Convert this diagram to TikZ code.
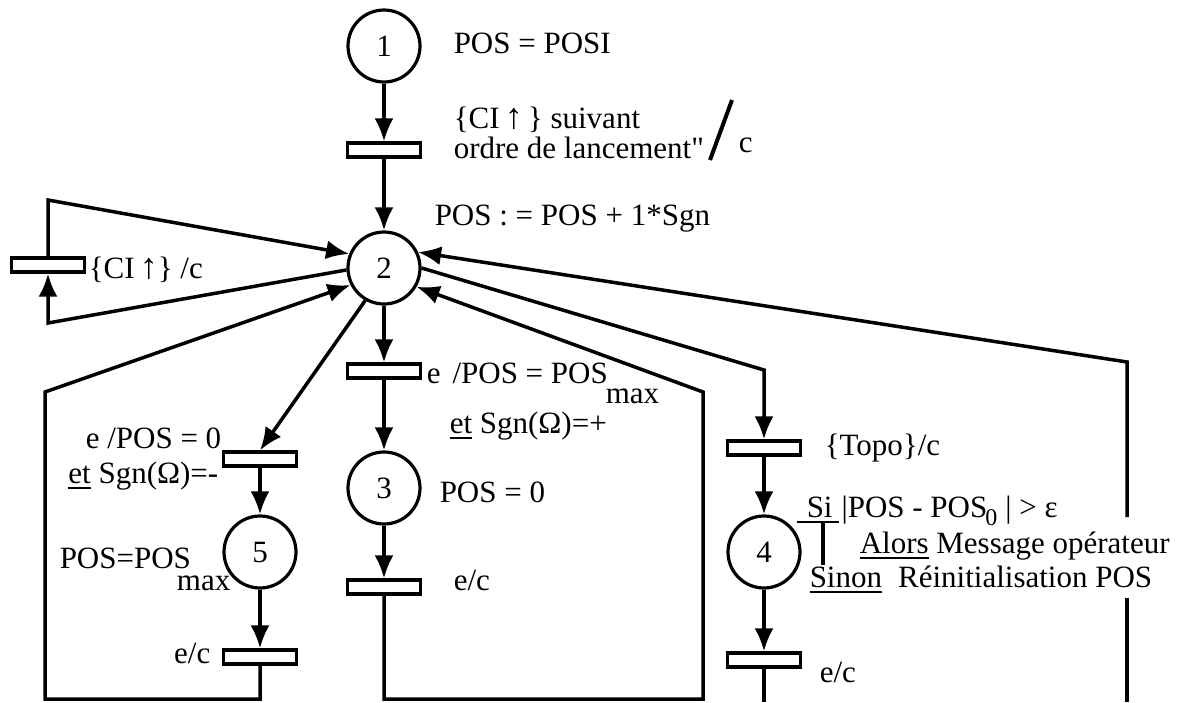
\documentclass[tikz,border=0pt]{standalone}
\usepackage{fontspec}
\setmainfont{Liberation Serif}[Ligatures=TeXOff]
\usetikzlibrary{arrows.meta}

\newcommand{\undl}[1]{\sbox0{#1}\rlap{\rule[-6pt]{\wd0}{2.5pt}}\usebox0}
\newcommand{\fleche}{{\fontsize{36}{36}\selectfont ↑}}

\begin{document}
\begin{tikzpicture}[x=1pt, y=-1pt, >={Latex[length=23pt, width=19pt]}, line width=3.5pt,
    font=\fontsize{31}{33}\selectfont,
    place/.style={draw, circle, minimum size=72pt, inner sep=0pt, line width=3.2pt},
    trans/.style={draw, minimum width=73pt, minimum height=14pt, inner sep=0pt, line width=3.2pt},
    lbl/.style={anchor=base west, inner sep=0pt},
    lblr/.style={anchor=base east, inner sep=0pt}]
  \useasboundingbox (0,0) rectangle (1184,702);

  % Позиции
  \node[place] (p1) at (384,46) {1};
  \node[place] (p2) at (384,268) {2};
  \node[place] (p3) at (384,488) {3};
  \node[place] (p4) at (764,552) {4};
  \node[place] (p5) at (260,552) {5};

  % Переходы
  \node[trans] (t1) at (384,150) {};
  \node[trans] (tl) at (48,265) {};
  \node[trans] (t2) at (384,371) {};
  \node[trans] (t3) at (384,587) {};
  \node[trans] (t5a) at (260,459) {};
  \node[trans] (t5b) at (260,657) {};
  \node[trans] (t4a) at (764,448) {};
  \node[trans] (t4b) at (764,660) {};

  % Точки излома
  \coordinate (ll1) at (48,200);
  \coordinate (ll2) at (48,323);
  \coordinate (bl1) at (260,699);
  \coordinate (bl2) at (45,699);
  \coordinate (bl3) at (45,392);
  \coordinate (ml1) at (384,699);
  \coordinate (ml2) at (703,699);
  \coordinate (ml3) at (703,392);
  \coordinate (rt) at (764,370);
  \coordinate (br) at (764,702);
  \coordinate (fr1) at (1127,702);
  \coordinate (fr2) at (1127,598);
  \coordinate (fr3) at (1127,517);
  \coordinate (fr4) at (1127,362);

  % Дуги
  \draw[->] (p1) -- (t1);
  \draw[->] (t1) -- (p2);
  \draw[->] (p2.183) -- (ll2) -- (tl);
  \draw[->] (tl) -- (ll1) -- (p2.158);
  \draw[->] (p2) -- (t2);
  \draw[->] (t2) -- (p3);
  \draw[->] (p3) -- (t3);
  \draw[->] (t3) -- (ml1) -- (ml2) -- (ml3) -- (p2.330);
  \draw[->] (p2.240) -- (t5a.north);
  \draw[->] (t5a) -- (p5);
  \draw[->] (p5) -- (t5b);
  \draw[->] (t5b) -- (bl1) -- (bl2) -- (bl3) -- (p2.207);
  \draw[->] (p2.0) -- (rt) -- (t4a);
  \draw[->] (t4a) -- (p4);
  \draw[->] (p4) -- (t4b);
  \draw (t4b) -- (br);
  \draw (fr1) -- (fr2);
  \draw[->] (fr3) -- (fr4) -- (p2.25);

  % Подписи
  \node[lbl] (l1) at (452,53) {POS = POSI};
  \node[lbl] (lt1a) at (452,128) {\{CI\,\fleche\,\} suivant};
  \node[lbl] (lt1b) at (452,158) {ordre de lancement"};
  \draw[line width=4pt] (710,160) -- (732,100);
  \node[lbl] (lc) at (737,152) {c};
  \node[lbl] (l2) at (433,225) {POS : = POS + 1*Sgn};
  \node[lbl] (ltl) at (87,278) {\{CI\,\fleche\} /c};
  \node[lbl] (lt2) at (425,383) {e\kern12pt/POS = POS\raisebox{-20pt}{\kern-2pt max}};
  \node[lbl] (lt2b) at (448,433) {\undl{et} Sgn(Ω)=+};
  \node[lbl] (l3) at (438,502) {POS = 0};
  \node[lbl] (lt3) at (452,590) {e/c};
  \node[lblr] (lt5a) at (223,448) {e /POS = 0};
  \node[lblr] (lt5b) at (220,483) {\undl{et} Sgn(Ω)=-};
  \node[lbl] (l5) at (58,568) {POS=POS\raisebox{-22pt}{\kern-14pt max}};
  \node[lblr] (lt5c) at (212,663) {e/c};
  \node[lbl] (lt4a) at (823,455) {\{Topo\}/c};
  \node[lbl] (l4a) at (795,517) {\undl{\kern10pt Si\kern6pt}\kern3pt|POS - POS\raisebox{-8pt}{\kern-2pt\fontsize{24}{26}\selectfont 0}\kern8pt| > ε};
  \draw (823,523) -- (823,565);
  \node[lbl] (l4b) at (858,553) {\undl{Alors} Message opérateur};
  \node[lbl] (l4c) at (808,587) {\undl{Sinon}\kern16pt Réinitialisation POS};
  \node[lbl] (lt4b) at (818,682) {e/c};
\end{tikzpicture}
\end{document}
